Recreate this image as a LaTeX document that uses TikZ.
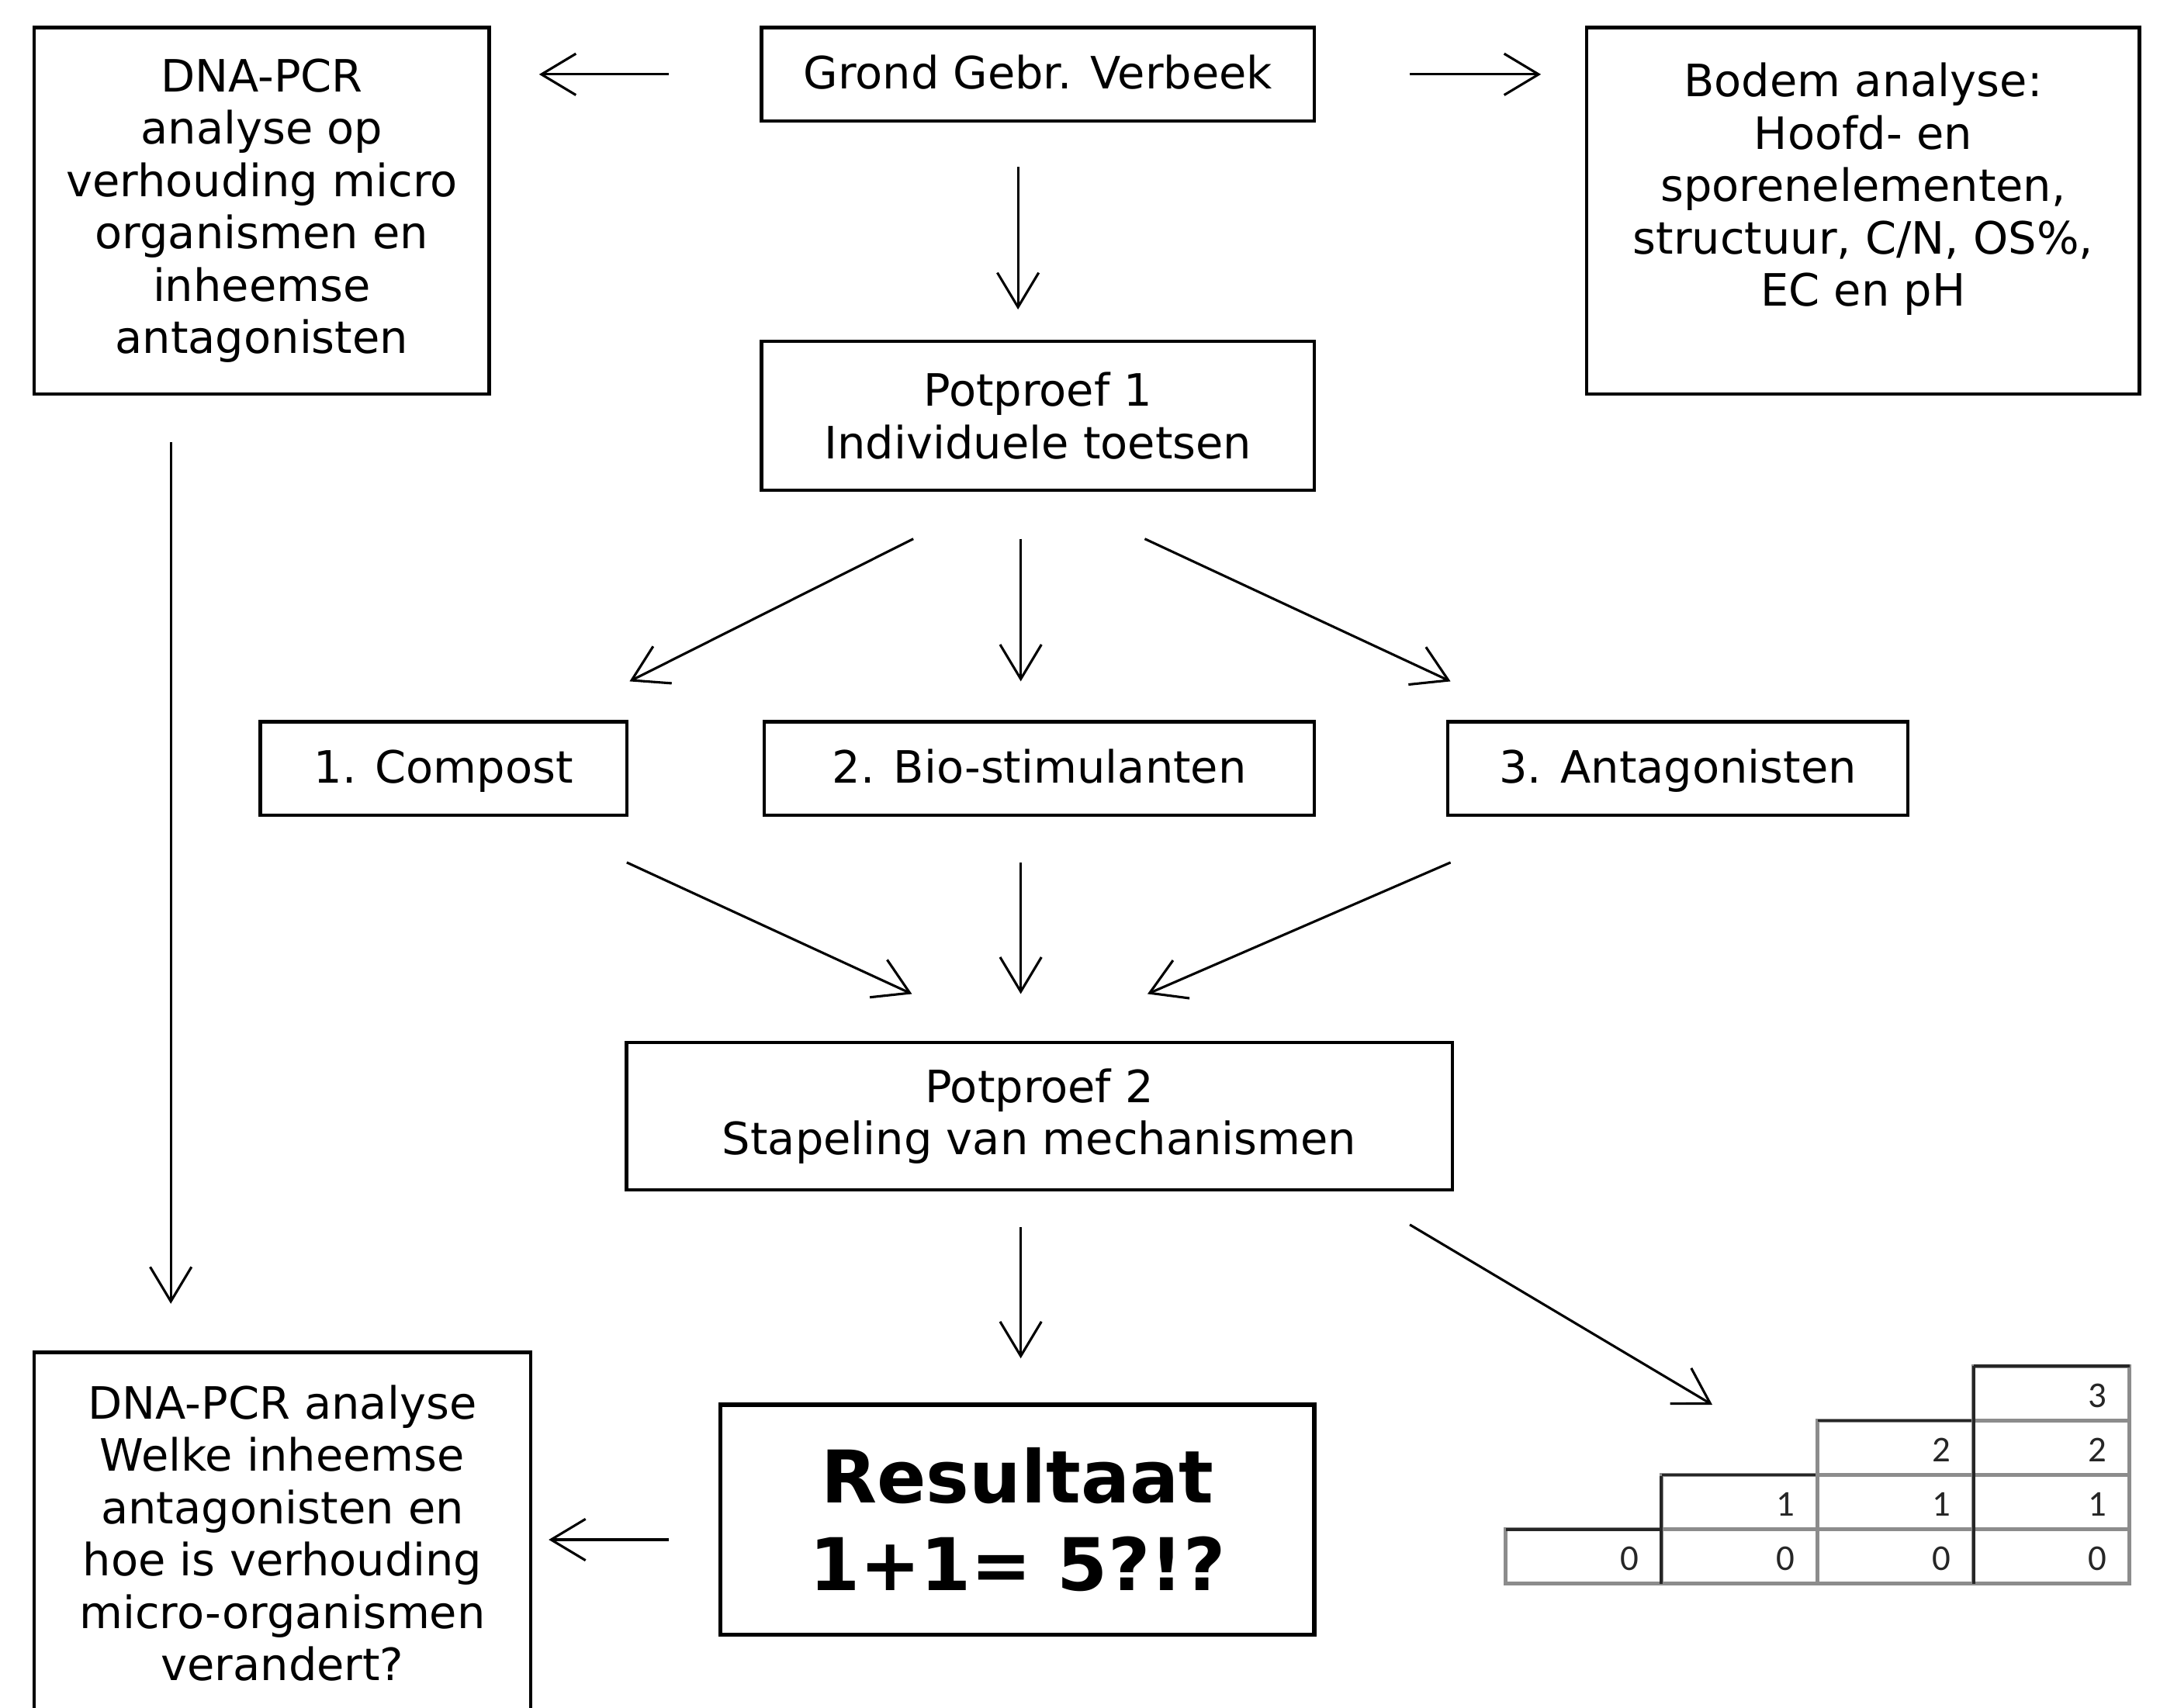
\documentclass[tikz,border=0pt]{standalone}
\usepackage{fontspec}
\setmainfont{DejaVu Sans}
\newfontfamily\cellfont{Carlito}
\usetikzlibrary{arrows.meta}

\begin{document}
\begin{tikzpicture}[x=0.01cm,y=-0.01cm,
    box/.style={draw,line width=0.7pt,align=center,inner sep=0pt,font=\fontsize{9.2}{10.8}\selectfont},
    een/.style={text height=1.75ex,text depth=.65ex},
    pijl/.style={-{Straight Barb[length=2.5mm,width=3mm]},line width=0.5pt},
    cel/.style={font=\cellfont\fontsize{7.5}{8}\selectfont,text=black!85,anchor=east}]
            \useasboundingbox(0,0)rectangle(1568,1240);
            \node[box,minimum width=3.3cm,minimum height=2.66cm](1)at(190,153){DNA-PCR\\analyse op\\verhouding micro\\organismen en\\inheemse\\antagonisten};
            \node[box,een,minimum width=4.01cm,minimum height=0.68cm](2)at(753.5,54){Grond Gebr. Verbeek};
            \node[box,minimum width=4.01cm,minimum height=2.66cm](3)at(1352.5,153){Bodem analyse:\\Hoofd- en\\sporenelementen,\\structuur, C/N, OS\%,\\EC en pH\\\mbox{}};
            \node[box,minimum width=4.01cm,minimum height=1.08cm](4)at(753.5,302){Potproef 1\\Individuele toetsen};
            \node[box,een,minimum width=2.66cm,minimum height=0.68cm](5)at(322,558){1. Compost};
            \node[box,een,minimum width=3.99cm,minimum height=0.68cm](6)at(754.5,558){2. Bio-stimulanten};
            \node[box,een,minimum width=3.34cm,minimum height=0.68cm](7)at(1218,558){3. Antagonisten};
            \node[box,minimum width=5.99cm,minimum height=1.07cm](8)at(754.5,810.5){Potproef 2\\Stapeling van mechanismen};
            \node[box,line width=0.9pt,minimum width=4.31cm,minimum height=1.67cm,font=\fontsize{15}{18}\selectfont\bfseries](9)at(738.5,1103.5){Resultaat\\1+1= 5?!?};
            \node[box,minimum width=3.6cm,minimum height=3.0cm](10)at(205,1132){DNA-PCR analyse\\Welke inheemse\\antagonisten en\\hoe is verhouding\\micro-organismen\\verandert?\\\mbox{}};
            % trapje
            \coordinate(t)at(1093,992);
            \foreach \i in {0,...,3}{
                \foreach \j in {0,...,\i}{
                    \draw[black!45,line width=0.8pt](1093+113.25*\i,1150-39.5*\j)rectangle++(113.25,-39.5);
                    \draw[black!85,line width=0.6pt](1093+113.25*\i,1150-39.5*\j-39.5)--++(113.25,0);
                    \node[cel](c\i\j)at(1093+113.25*\i+109,1150-39.5*\j-18){\j};
                }
            }
            \draw[black!85,line width=0.6pt](1206,1150)--(1206,1072);
            \draw[black!85,line width=0.6pt](1433,1150)--(1433,992);
            % pijlen
            \draw[pijl,shorten <=0.66cm,shorten >=0.35cm](2.west)--(2.west-|1.east);
            \draw[pijl,shorten <=0.68cm,shorten >=0.32cm](2.east)--(2.east-|3.west);
            \draw[pijl]([shift={(-14.5,32)}]2.south)--([shift={(-14.5,-22)}]4.north);
            \draw[pijl]([shift={(-90.5,34)}]4.south)--([shift={(135,-28)}]5.north);
            \draw[pijl]([shift={(-12.5,34)}]4.south)--([shift={(-13.5,-28)}]6.north);
            \draw[pijl]([shift={(77.5,34)}]4.south)--([shift={(-165,-28)}]7.north);
            \draw[pijl]([shift={(133,33)}]5.south)--([shift={(-92.5,-34)}]8.north);
            \draw[pijl]([shift={(-13.5,33)}]6.south)--([shift={(-13.5,-34)}]8.north);
            \draw[pijl]([shift={(-165,33)}]7.south)--([shift={(78.5,-34)}]8.north);
            \draw[pijl]([shift={(-13.5,26)}]8.south)--([shift={(2.5,-32)}]9.north);
            \draw[pijl]([shift={(-32,24)}]8.south east)--([shift={(150,28)}]t);
            \draw[pijl]([shift={(-66,34)}]1.south)--([shift={(-81,-34)}]10.north);
            \draw[pijl]([shift={(-36,14.5)}]9.west)--([shift={(12,-14)}]10.east);
        \end{tikzpicture}
\end{document}
